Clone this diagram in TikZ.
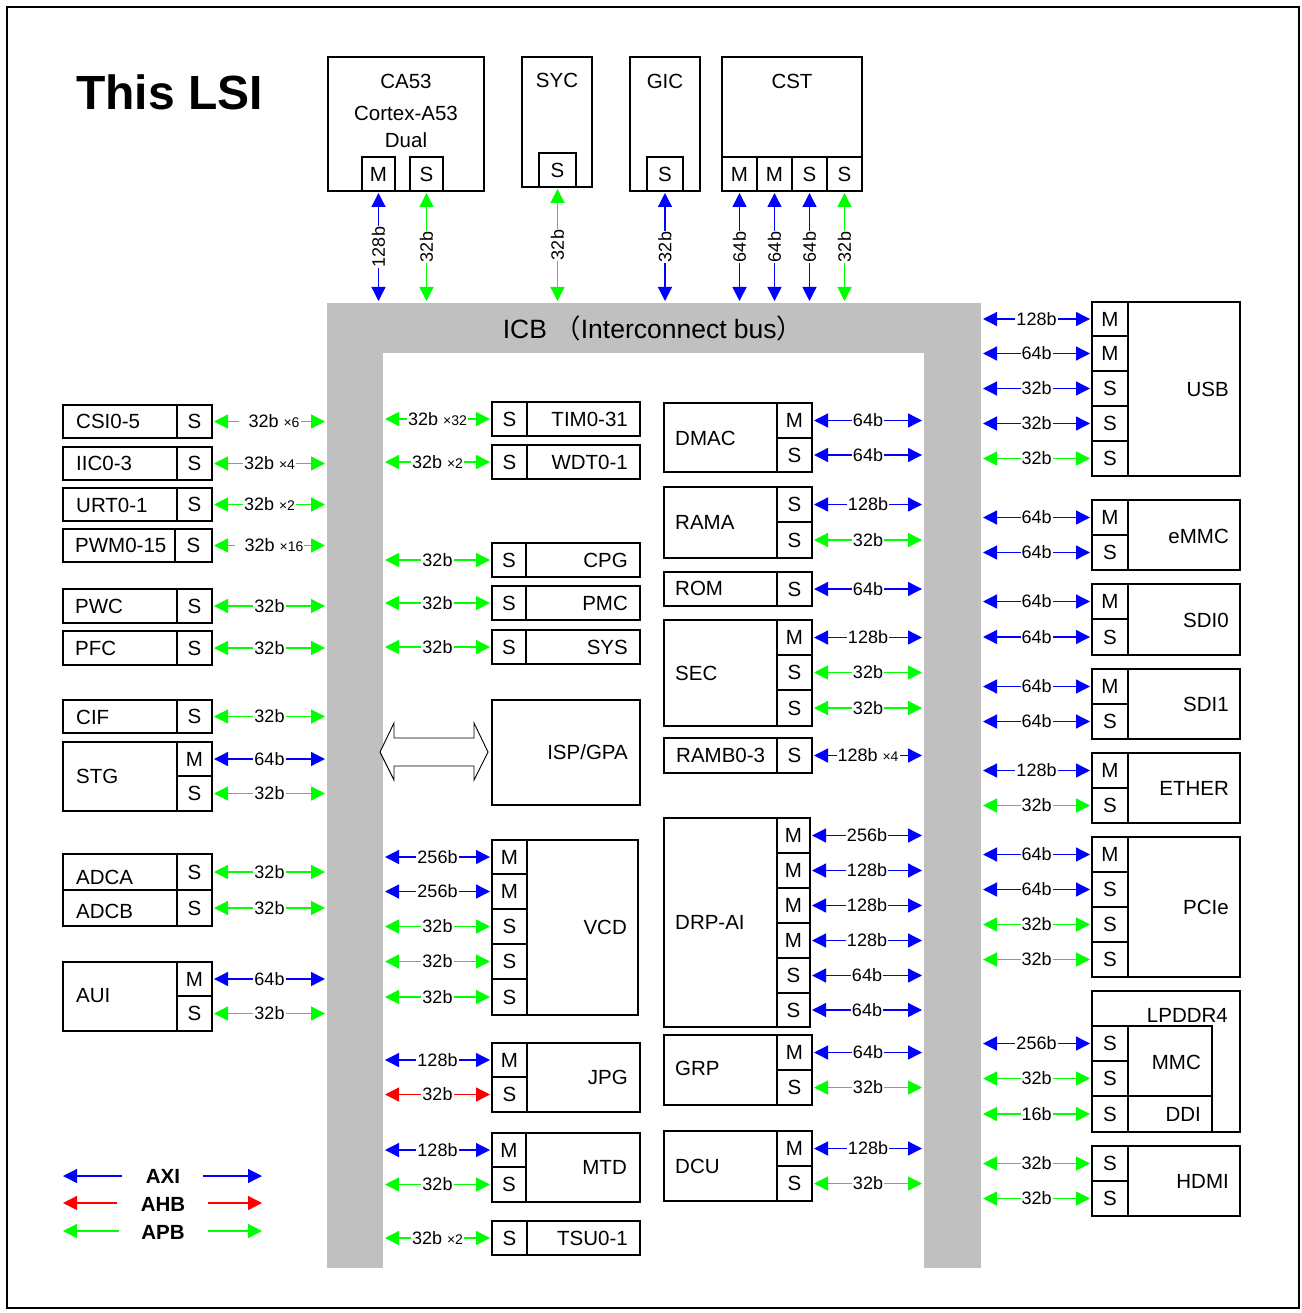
\documentclass[tikz,border=0pt]{standalone}
\usepackage{fontspec}
\setmainfont{Liberation Sans}
\newfontfamily\cjkfont{Noto Sans CJK SC}
\usetikzlibrary{arrows.meta,fit,calc}
\definecolor{axiblue}{RGB}{0,0,255}
\definecolor{ahbred}{RGB}{255,0,0}
\definecolor{apbgreen}{RGB}{0,255,0}
\definecolor{icbgray}{RGB}{192,192,192}
\newcommand\blkbox[6]{\node[bx,fit={(#2,#3)(#4,#5)}] (#1) {}; \node[txt] (#1t) at (#1.center) {#6};}
\newcommand\tms[1]{{\fontsize{14}{15}\selectfont ×#1}}
\newcommand\conL[3]{\draw[#1] (#2.east) -- (#2.east -| icbL.west) node[lbl]{#3};}
\newcommand\conML[3]{\draw[#1] (#2.west -| icbL.east) -- (#2.west) node[lbl]{#3};}
\newcommand\conMR[3]{\draw[#1] (#2.east) -- (#2.east -| icbR.west) node[lbl]{#3};}
\newcommand\conR[3]{\draw[#1] (#2.west -| icbR.east) -- (#2.west) node[lbl]{#3};}
\newcommand\conT[3]{\draw[#1] (#2.south) -- (#2.south |- icbT.north) node[vlbl]{#3};}
\tikzset{
  bx/.style={draw, line width=1.2pt, inner sep=0pt, outer sep=0pt},
  icb/.style={fill=icbgray, draw=none, inner sep=0pt, outer sep=0pt},
  txt/.style={inner sep=0pt},
  tl/.style={txt, anchor=west},
  tr/.style={txt, anchor=east},
  conn/.style={line width=1.3pt, {Triangle[length=14pt,width=14pt]}-{Triangle[length=14pt,width=14pt]}, shorten <=2pt, shorten >=2pt},
  axi/.style={conn, draw=axiblue, fill=axiblue},
  ahb/.style={conn, draw=ahbred, fill=ahbred},
  apb/.style={conn, draw=apbgreen, fill=apbgreen},
  legarrow/.style={line width=1.3pt, -{Triangle[length=14pt,width=14pt]}},
  lbl/.style={midway, fill=white, inner sep=1pt, text=black, font=\fontsize{18}{20}\selectfont},
  vlbl/.style={lbl, rotate=90},
}
\begin{document}
\begin{tikzpicture}[x=1pt,y=-1pt,font=\fontsize{20.5}{24}\selectfont]
\useasboundingbox (0,0) rectangle (1301,1313);
\draw[line width=1.5pt] (7,7) rectangle (1299,1308);

% title
\node[txt, anchor=west, font=\bfseries\fontsize{48}{50}\selectfont] (title) at (76,92) {This LSI};

% ICB
\node[icb, fit={(327,303)(981,353)}] (icbT) {};
\node[icb, fit={(327,303)(383,1268)}] (icbL) {};
\node[icb, fit={(924,303)(981,1268)}] (icbR) {};
\node[txt, font=\fontsize{26.5}{28}\selectfont] (icbtxt) at (653,328) {ICB {\cjkfont （}Interconnect bus{\cjkfont ）}};

% top blocks
\blkbox{ca}{328}{57}{484}{191}{}
\blkbox{caM}{362}{157}{395}{191}{M}
\blkbox{caS}{410}{157}{443}{191}{S}
\node[txt] (caT1) at (406,81) {CA53};
\node[txt] (caT2) at (406,113) {Cortex-A53};
\node[txt] (caT3) at (406,140) {Dual};
\blkbox{syc}{522}{57}{592}{187}{}
\blkbox{sycS}{539}{153}{576}{187}{S}
\node[txt] (sycT) at (557,80) {SYC};
\blkbox{gic}{630}{57}{700}{191}{}
\blkbox{gicS}{647}{157}{683}{191}{S}
\node[txt] (gicT) at (665,81) {GIC};
\blkbox{cst}{722}{57}{862}{191}{}
\blkbox{cstM1}{722}{157}{757}{191}{M}
\blkbox{cstM2}{757}{157}{792}{191}{M}
\blkbox{cstS1}{792}{157}{827}{191}{S}
\blkbox{cstS2}{827}{157}{862}{191}{S}
\node[txt] (cstT) at (792,81) {CST};
\conT{axi}{caM}{128b}
\conT{apb}{caS}{32b}
\conT{apb}{sycS}{32b}
\conT{axi}{gicS}{32b}
\conT{axi}{cstM1}{64b}
\conT{axi}{cstM2}{64b}
\conT{axi}{cstS1}{64b}
\conT{apb}{cstS2}{32b}

% left column
\blkbox{csi}{63}{405}{212}{438}{}
\blkbox{csiS}{177}{405}{212}{438}{S}
\node[tl] (csiT) at (76,421) {CSI0-5}; \conL{apb}{csiS}{\enspace32b \tms{6}}
\blkbox{iic}{63}{447}{212}{480}{}
\blkbox{iicS}{177}{447}{212}{480}{S}
\node[tl] (iicT) at (76,463) {IIC0-3}; \conL{apb}{iicS}{32b \tms{4}}
\blkbox{urt}{63}{488}{212}{521}{}
\blkbox{urtS}{177}{488}{212}{521}{S}
\node[tl] (urtT) at (76,505) {URT0-1}; \conL{apb}{urtS}{32b \tms{2}}
\blkbox{pwm}{63}{529}{212}{562}{}
\blkbox{pwmS}{175}{529}{212}{562}{S}
\node[tl] (pwmT) at (75,545) {PWM0-15}; \conL{apb}{pwmS}{\enspace32b \tms{16}}
\blkbox{pwc}{63}{589}{212}{623}{}
\blkbox{pwcS}{177}{589}{212}{623}{S}
\node[tl] (pwcT) at (75,606) {PWC}; \conL{apb}{pwcS}{32b}
\blkbox{pfc}{63}{631}{212}{665}{}
\blkbox{pfcS}{177}{631}{212}{665}{S}
\node[tl] (pfcT) at (75,648) {PFC}; \conL{apb}{pfcS}{32b}
\blkbox{cif}{63}{700}{212}{733}{}
\blkbox{cifS}{177}{700}{212}{733}{S}
\node[tl] (cifT) at (76,717) {CIF}; \conL{apb}{cifS}{32b}
\blkbox{stg}{63}{742}{212}{811}{}
\blkbox{stgM}{177}{742}{212}{776}{M}
\blkbox{stgS}{177}{776}{212}{811}{S}
\node[tl] (stgT) at (76,776) {STG}; \conL{axi}{stgM}{64b} \conL{apb}{stgS}{32b}
\blkbox{adca}{63}{854}{212}{890}{}
\blkbox{adcaS}{177}{854}{212}{890}{S}
\blkbox{adcb}{63}{890}{212}{926}{}
\blkbox{adcbS}{177}{890}{212}{926}{S}
\node[tl] (adcaT) at (76,877) {ADCA};
\node[tl] (adcbT) at (76,911) {ADCB};
\conL{apb}{adcaS}{32b} \conL{apb}{adcbS}{32b}
\blkbox{aui}{63}{962}{212}{1031}{}
\blkbox{auiM}{177}{962}{212}{996}{M}
\blkbox{auiS}{177}{996}{212}{1031}{S}
\node[tl] (auiT) at (76,996) {AUI}; \conL{axi}{auiM}{64b} \conL{apb}{auiS}{32b}

% middle-left column
\blkbox{tim}{492}{402}{640}{436}{}
\blkbox{timS}{492}{402}{527}{436}{S}
\node[tr] (timT) at (628,419) {TIM0-31}; \conML{apb}{timS}{32b \tms{32}}
\blkbox{wdt}{492}{445}{640}{479}{}
\blkbox{wdtS}{492}{445}{527}{479}{S}
\node[tr] (wdtT) at (628,462) {WDT0-1}; \conML{apb}{wdtS}{32b \tms{2}}
\blkbox{cpg}{492}{543}{640}{577}{}
\blkbox{cpgS}{492}{543}{526}{577}{S}
\node[tr] (cpgT) at (628,560) {CPG}; \conML{apb}{cpgS}{32b}
\blkbox{pmc}{492}{586}{640}{620}{}
\blkbox{pmcS}{492}{586}{526}{620}{S}
\node[tr] (pmcT) at (628,603) {PMC}; \conML{apb}{pmcS}{32b}
\blkbox{sys}{492}{630}{640}{664}{}
\blkbox{sysS}{492}{630}{526}{664}{S}
\node[tr] (sysT) at (628,647) {SYS}; \conML{apb}{sysS}{32b}
\blkbox{isp}{492}{700}{640}{805}{}
\node[tr] (ispT) at (628,752) {ISP/GPA};
\draw[line width=0.9pt, fill=white] (380,752) -- (394,723) -- (394,738) -- (474,738) -- (474,723) -- (488,752) -- (474,780) -- (474,766) -- (394,766) -- (394,780) -- cycle;
\blkbox{vcd}{492}{840}{638}{1015}{}
\blkbox{vcdM1}{492}{840}{527}{874}{M}
\blkbox{vcdM2}{492}{874}{527}{909}{M}
\blkbox{vcdS1}{492}{909}{527}{944}{S}
\blkbox{vcdS2}{492}{944}{527}{979}{S}
\blkbox{vcdS3}{492}{979}{527}{1015}{S}
\node[tr] (vcdT) at (627,927) {VCD};
\conML{axi}{vcdM1}{256b} \conML{axi}{vcdM2}{256b}
\conML{apb}{vcdS1}{32b} \conML{apb}{vcdS2}{32b} \conML{apb}{vcdS3}{32b}
\blkbox{jpg}{492}{1043}{640}{1112}{}
\blkbox{jpgM}{492}{1043}{527}{1077}{M}
\blkbox{jpgS}{492}{1077}{527}{1112}{S}
\node[tr] (jpgT) at (628,1077) {JPG};
\conML{axi}{jpgM}{128b} \conML{ahb}{jpgS}{32b}
\blkbox{mtd}{492}{1133}{640}{1202}{}
\blkbox{mtdM}{492}{1133}{526}{1167}{M}
\blkbox{mtdS}{492}{1167}{526}{1202}{S}
\node[tr] (mtdT) at (627,1167) {MTD};
\conML{axi}{mtdM}{128b} \conML{apb}{mtdS}{32b}
\blkbox{tsu}{492}{1221}{640}{1255}{}
\blkbox{tsuS}{492}{1221}{527}{1255}{S}
\node[tr] (tsuT) at (628,1238) {TSU0-1}; \conML{apb}{tsuS}{32b \tms{2}}

% middle-right column
\blkbox{dmac}{664}{403}{812}{472}{}
\blkbox{dmacM}{777}{403}{812}{438}{M}
\blkbox{dmacS}{777}{438}{812}{472}{S}
\node[tl] (dmacT) at (675,438) {DMAC};
\conMR{axi}{dmacM}{64b} \conMR{axi}{dmacS}{64b}
\blkbox{rama}{664}{487}{812}{558}{}
\blkbox{ramaS1}{777}{487}{812}{522}{S}
\blkbox{ramaS2}{777}{522}{812}{558}{S}
\node[tl] (ramaT) at (675,522) {RAMA};
\conMR{axi}{ramaS1}{128b} \conMR{apb}{ramaS2}{32b}
\blkbox{rom}{664}{572}{812}{606}{}
\blkbox{romS}{777}{572}{812}{606}{S}
\node[tl] (romT) at (675,588) {ROM}; \conMR{axi}{romS}{64b}
\blkbox{sec}{664}{620}{812}{726}{}
\blkbox{secM}{777}{620}{812}{655}{M}
\blkbox{secS1}{777}{655}{812}{690}{S}
\blkbox{secS2}{777}{690}{812}{726}{S}
\node[tl] (secT) at (675,673) {SEC};
\conMR{axi}{secM}{128b} \conMR{apb}{secS1}{32b} \conMR{apb}{secS2}{32b}
\blkbox{ramb}{664}{738}{812}{773}{}
\blkbox{rambS}{777}{738}{812}{773}{S}
\node[tl] (rambT) at (676,755) {RAMB0-3}; \conMR{axi}{rambS}{128b \tms{4}}
\blkbox{drp}{664}{818}{810}{1027}{}
\blkbox{drpM1}{777}{818}{810}{853}{M}
\blkbox{drpM2}{777}{853}{810}{888}{M}
\blkbox{drpM3}{777}{888}{810}{923}{M}
\blkbox{drpM4}{777}{923}{810}{958}{M}
\blkbox{drpS1}{777}{958}{810}{993}{S}
\blkbox{drpS2}{777}{993}{810}{1027}{S}
\node[tl] (drpT) at (675,922) {DRP-AI};
\conMR{axi}{drpM1}{256b} \conMR{axi}{drpM2}{128b} \conMR{axi}{drpM3}{128b}
\conMR{axi}{drpM4}{128b} \conMR{axi}{drpS1}{64b} \conMR{axi}{drpS2}{64b}
\blkbox{grp}{664}{1035}{812}{1105}{}
\blkbox{grpM}{777}{1035}{812}{1070}{M}
\blkbox{grpS}{777}{1070}{812}{1105}{S}
\node[tl] (grpT) at (675,1068) {GRP};
\conMR{axi}{grpM}{64b} \conMR{apb}{grpS}{32b}
\blkbox{dcu}{664}{1131}{812}{1201}{}
\blkbox{dcuM}{777}{1131}{812}{1166}{M}
\blkbox{dcuS}{777}{1166}{812}{1201}{S}
\node[tl] (dcuT) at (675,1166) {DCU};
\conMR{axi}{dcuM}{128b} \conMR{apb}{dcuS}{32b}

% right column
\blkbox{usb}{1092}{302}{1240}{476}{}
\blkbox{usbM1}{1092}{302}{1128}{336}{M}
\blkbox{usbM2}{1092}{336}{1128}{371}{M}
\blkbox{usbS1}{1092}{371}{1128}{406}{S}
\blkbox{usbS2}{1092}{406}{1128}{441}{S}
\blkbox{usbS3}{1092}{441}{1128}{476}{S}
\node[tr] (usbT) at (1229,389) {USB};
\conR{axi}{usbM1}{128b} \conR{axi}{usbM2}{64b} \conR{axi}{usbS1}{32b}
\conR{axi}{usbS2}{32b} \conR{apb}{usbS3}{32b}
\blkbox{emmc}{1092}{500}{1240}{570}{}
\blkbox{emmcM}{1092}{500}{1128}{535}{M}
\blkbox{emmcS}{1092}{535}{1128}{570}{S}
\node[tr] (emmcT) at (1229,536) {eMMC};
\conR{axi}{emmcM}{64b} \conR{axi}{emmcS}{64b}
\blkbox{sdia}{1092}{584}{1240}{655}{}
\blkbox{sdiaM}{1092}{584}{1128}{619}{M}
\blkbox{sdiaS}{1092}{619}{1128}{655}{S}
\node[tr] (sdiaT) at (1229,620) {SDI0};
\conR{axi}{sdiaM}{64b} \conR{axi}{sdiaS}{64b}
\blkbox{sdib}{1092}{669}{1240}{739}{}
\blkbox{sdibM}{1092}{669}{1128}{704}{M}
\blkbox{sdibS}{1092}{704}{1128}{739}{S}
\node[tr] (sdibT) at (1229,704) {SDI1};
\conR{axi}{sdibM}{64b} \conR{axi}{sdibS}{64b}
\blkbox{eth}{1092}{753}{1240}{823}{}
\blkbox{ethM}{1092}{753}{1128}{788}{M}
\blkbox{ethS}{1092}{788}{1128}{823}{S}
\node[tr] (ethT) at (1229,788) {ETHER};
\conR{axi}{ethM}{128b} \conR{apb}{ethS}{32b}
\blkbox{pcie}{1092}{837}{1240}{977}{}
\blkbox{pcieM}{1092}{837}{1128}{872}{M}
\blkbox{pcieS1}{1092}{872}{1128}{907}{S}
\blkbox{pcieS2}{1092}{907}{1128}{942}{S}
\blkbox{pcieS3}{1092}{942}{1128}{977}{S}
\node[tr] (pcieT) at (1229,907) {PCIe};
\conR{axi}{pcieM}{64b} \conR{axi}{pcieS1}{64b} \conR{apb}{pcieS2}{32b} \conR{apb}{pcieS3}{32b}
\blkbox{lpddr}{1092}{991}{1240}{1132}{}
\blkbox{mmc}{1092}{1026}{1212}{1096}{}
\blkbox{ddi}{1092}{1096}{1212}{1132}{}
\blkbox{mmcS1}{1092}{1026}{1128}{1061}{S}
\blkbox{mmcS2}{1092}{1061}{1128}{1096}{S}
\blkbox{ddiS}{1092}{1096}{1128}{1132}{S}
\node[tr] (lpddrT) at (1228,1015) {LPDDR4};
\node[tr] (mmcT) at (1201,1062) {MMC};
\node[tr] (ddiT) at (1201,1114) {DDI};
\conR{axi}{mmcS1}{256b} \conR{apb}{mmcS2}{32b} \conR{apb}{ddiS}{16b}
\blkbox{hdmi}{1092}{1146}{1240}{1216}{}
\blkbox{hdmiS1}{1092}{1146}{1128}{1181}{S}
\blkbox{hdmiS2}{1092}{1181}{1128}{1216}{S}
\node[tr] (hdmiT) at (1229,1181) {HDMI};
\conR{apb}{hdmiS1}{32b} \conR{apb}{hdmiS2}{32b}

% legend
\node[txt, font=\bfseries\fontsize{20.5}{24}\selectfont] (legAXI) at (163,1176) {AXI};
\node[txt, font=\bfseries\fontsize{20.5}{24}\selectfont] (legAHB) at (163,1204) {AHB};
\node[txt, font=\bfseries\fontsize{20.5}{24}\selectfont] (legAPB) at (163,1232) {APB};
\coordinate (axL1) at (122,1176); \coordinate (axL2) at (63,1176);
\coordinate (axR1) at (203,1176); \coordinate (axR2) at (262,1176);
\coordinate (ahL1) at (117,1203); \coordinate (ahL2) at (63,1203);
\coordinate (ahR1) at (208,1203); \coordinate (ahR2) at (262,1203);
\coordinate (apL1) at (119,1231); \coordinate (apL2) at (63,1231);
\coordinate (apR1) at (208,1231); \coordinate (apR2) at (262,1231);
\draw[legarrow, draw=axiblue, fill=axiblue] (axL1) -- (axL2);
\draw[legarrow, draw=axiblue, fill=axiblue] (axR1) -- (axR2);
\draw[legarrow, draw=ahbred, fill=ahbred] (ahL1) -- (ahL2);
\draw[legarrow, draw=ahbred, fill=ahbred] (ahR1) -- (ahR2);
\draw[legarrow, draw=apbgreen, fill=apbgreen] (apL1) -- (apL2);
\draw[legarrow, draw=apbgreen, fill=apbgreen] (apR1) -- (apR2);
\end{tikzpicture}
\end{document}
